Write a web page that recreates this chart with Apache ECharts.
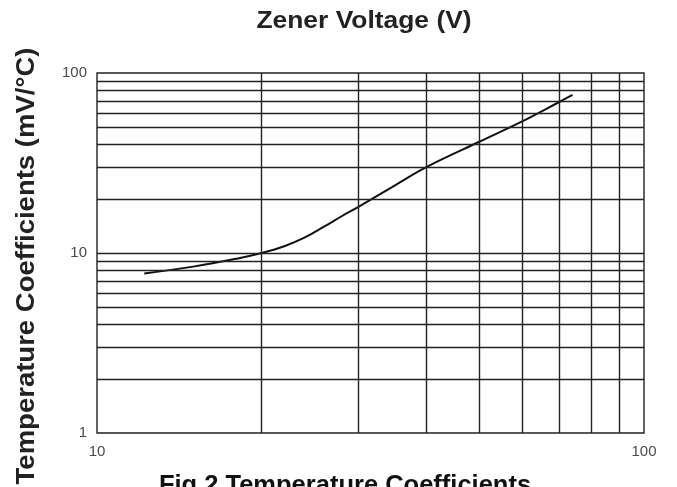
<!DOCTYPE html>
<html>
<head>
<meta charset="utf-8">
<script src="https://cdn.jsdelivr.net/npm/echarts@6/dist/echarts.min.js"></script>
<style>html,body{margin:0;padding:0;background:#fff}#c{width:677px;height:487px}</style>
</head>
<body>
<div id="c"></div>
<script>
var zenerVoltage = [12.2, 15, 18, 20, 22, 24, 26, 28, 30, 35, 40, 50, 60, 70, 74];
var tempCoeff = [7.7, 8.4, 9.3, 10, 10.9, 12.2, 14, 16, 18, 23.7, 30, 41.5, 54, 69, 75.5];
var xGridValues = [20, 30, 40, 50, 60, 70, 80, 90];
var yGridValues = [2, 3, 4, 5, 6, 7, 8, 9, 10, 20, 30, 40, 50, 60, 70, 80, 90];
var titleText = 'Zener Voltage (V)';
var yNameText = 'Temperature Coefficients (mV/°C)';
var captionText = 'Fig.2 Temperature Coefficients';

var chart = echarts.init(document.getElementById('c'), null, {renderer: 'canvas'});
var gridLineStyle = {color: '#222', width: 1.4, type: 'solid'};
var markData = [];
xGridValues.forEach(function (v) { markData.push({xAxis: v}); });
yGridValues.forEach(function (v) { markData.push({yAxis: v}); });

var font = '"Liberation Sans", Arial, sans-serif';
chart.setOption({
  animation: false,
  backgroundColor: '#fff',
  grid: {left: 97, right: 33, top: 73, bottom: 54, show: true, borderColor: '#222', borderWidth: 1.4, backgroundColor: 'transparent'},
  xAxis: {
    type: 'log', logBase: 10, min: 10, max: 100,
    axisLine: {show: false}, axisTick: {show: false}, splitLine: {show: false},
    axisLabel: {color: '#4a4a4a', fontSize: 15, fontFamily: font, margin: 11}
  },
  yAxis: {
    type: 'log', logBase: 10, min: 1, max: 100,
    axisLine: {show: false}, axisTick: {show: false}, splitLine: {show: false},
    axisLabel: {color: '#4a4a4a', fontSize: 15, fontFamily: font, margin: 10}
  },
  graphic: [
    {type: 'text', x: 364, y: 21, scaleX: 1.1, style: {text: titleText, font: 'bold 24px ' + font, fill: '#222', align: 'center', verticalAlign: 'middle'}},
    {type: 'text', x: 27, y: 266, rotation: Math.PI / 2, scaleX: 1.1, style: {text: yNameText, font: 'bold 25px ' + font, fill: '#222', align: 'center', verticalAlign: 'middle'}},
    {type: 'text', x: 345, y: 486, scaleX: 1.02, style: {text: captionText, font: 'bold 25px ' + font, fill: '#111', align: 'center', verticalAlign: 'middle'}}
  ],
  series: [{
    type: 'line',
    data: zenerVoltage.map(function (x, i) { return [x, tempCoeff[i]]; }),
    smooth: 0.4,
    showSymbol: false,
    lineStyle: {color: '#111', width: 2},
    z: 3,
    markLine: {
      silent: true, symbol: 'none', label: {show: false},
      lineStyle: gridLineStyle,
      emphasis: {disabled: true},
      data: markData
    }
  }]
});
</script>
</body>
</html>
